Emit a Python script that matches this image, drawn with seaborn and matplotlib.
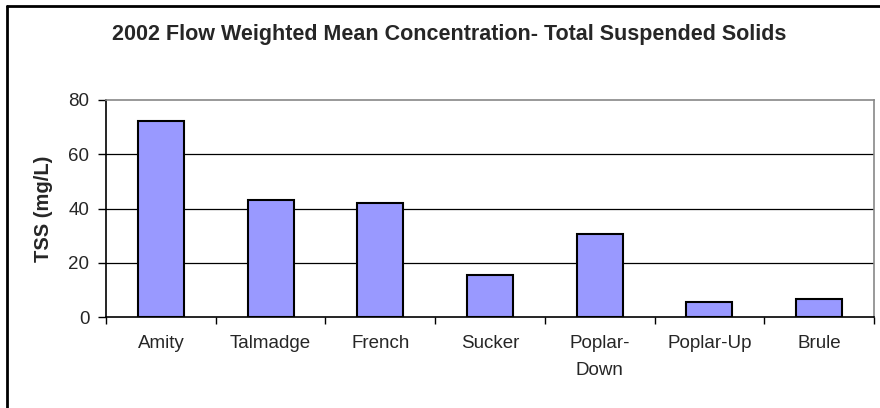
import matplotlib
matplotlib.use("Agg")
import matplotlib.pyplot as plt
import seaborn as sns
import pandas as pd
import numpy as np
from matplotlib.lines import Line2D

sites = ["Amity", "Talmadge", "French", "Sucker", "Poplar-\nDown", "Poplar-Up", "Brule"]
tss = [72.4, 43.3, 42.0, 15.6, 30.6, 5.4, 6.7]
yticks = [0, 20, 40, 60, 80]

df = pd.DataFrame({"site": sites, "tss": tss})

sns.set_style("white")
plt.rcParams["font.family"] = ["Liberation Sans", "DejaVu Sans"]

fig = plt.figure(figsize=(8.8, 4.08), dpi=100)
ax = fig.add_axes([106/880, 1-317/408, (874-106)/880, (317-100)/408])

sns.barplot(data=df, x="site", y="tss", color="#9999FF", edgecolor="black",
            linewidth=1.5, width=0.42, saturation=1, ax=ax, zorder=3)

ax.set_ylim(0, 80)
ax.set_xlim(-0.5, len(sites) - 0.5)
ax.set_yticks(yticks)
ax.set_yticklabels([str(v) for v in yticks], fontsize=13.5)
ax.set_xticks(range(len(sites)))
ax.set_xticklabels(sites, fontsize=13.5, linespacing=1.75, va="top")
ax.set_xticks(np.arange(-0.5, len(sites), 1.0), minor=True)
ax.tick_params(axis="x", which="major", length=0, pad=13)
ax.tick_params(axis="x", which="minor", length=5, width=1, color="black", direction="out", bottom=True)
ax.tick_params(axis="y", length=6, width=1, color="black", direction="out", left=True, pad=6)

for v in yticks[1:-1]:
    ax.axhline(v, color="black", lw=0.9, zorder=1)

ax.spines["left"].set_color("black")
ax.spines["bottom"].set_color("black")
ax.spines["left"].set_linewidth(1.2)
ax.spines["bottom"].set_linewidth(1.2)
ax.spines["top"].set_color("#888888")
ax.spines["right"].set_color("#888888")
ax.spines["top"].set_linewidth(1.2)
ax.spines["right"].set_linewidth(1.2)
for s in ax.spines.values():
    s.set_visible(True)

ax.set_xlabel("")
ax.set_ylabel("TSS (mg/L)", fontsize=14.5, fontweight="bold")
ax.yaxis.set_label_coords((53 - 106) / 768, 0.5)

fig.text(449/880, 1-40/408, "2002 Flow Weighted Mean Concentration- Total Suspended Solids",
         ha="center", va="baseline", fontsize=15.5, fontweight="bold")

# outer chart frame (left & top edges visible)
fig.add_artist(Line2D([7/880, 7/880], [0, 1-6/408], transform=fig.transFigure, color="black", lw=2))
fig.add_artist(Line2D([7/880, 1], [1-6/408, 1-6/408], transform=fig.transFigure, color="black", lw=2))

fig.savefig("out.png", dpi=100)
